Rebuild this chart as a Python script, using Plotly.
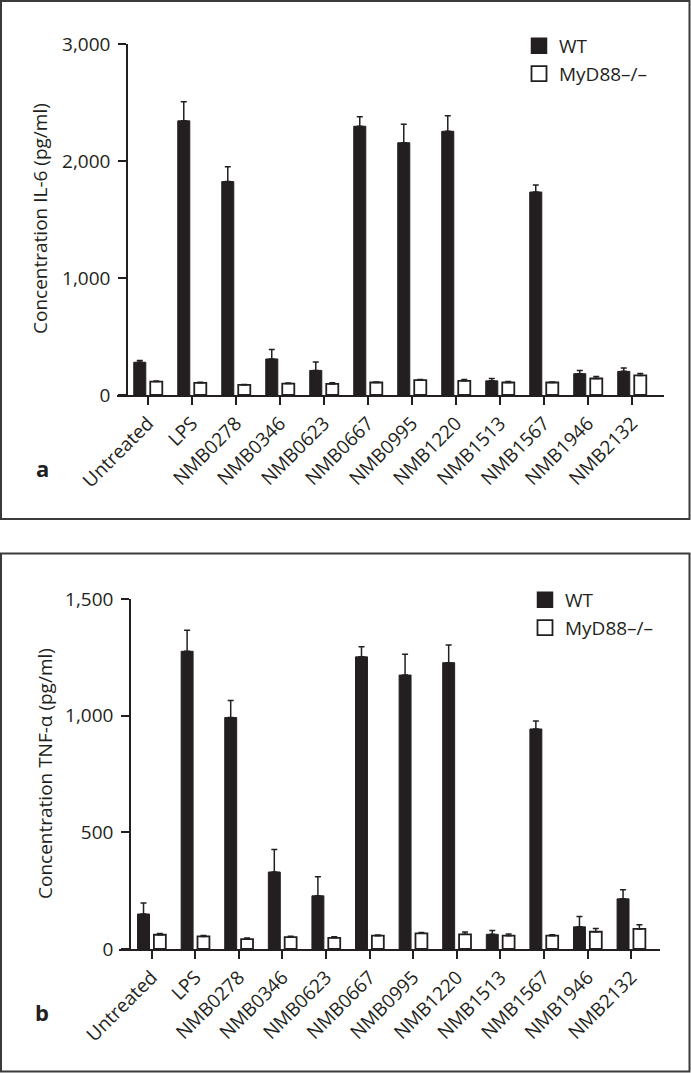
import plotly.graph_objects as go

W, H = 691, 1073

categories = ["Untreated", "LPS", "NMB0278", "NMB0346", "NMB0623", "NMB0667",
              "NMB0995", "NMB1220", "NMB1513", "NMB1567", "NMB1946", "NMB2132"]

# Panel a: IL-6 (pg/ml)
il6_wt = [280, 2343, 1824, 308, 210, 2297, 2156, 2254, 121, 1735, 182, 202]
il6_wt_err = [14, 164, 127, 81, 72, 81, 158, 132, 20, 60, 28, 29]
il6_ko = [115, 104, 86, 98, 95, 107, 127, 121, 107, 107, 141, 167]
il6_ko_err = [5, 6, 4, 5, 9, 5, 5, 12, 8, 5, 18, 17]

# Panel b: TNF-alpha (pg/ml)
tnf_wt = [150, 1276, 992, 330, 228, 1252, 1174, 1227, 63, 943, 95, 215]
tnf_wt_err = [47, 90, 73, 96, 82, 43, 89, 76, 16, 34, 44, 39]
tnf_ko = [61, 54, 42, 51, 48, 57, 67, 63, 57, 57, 74, 86]
tnf_ko_err = [5, 4, 5, 4, 4, 3, 4, 10, 7, 4, 14, 18]

il6_ticks = [0, 1000, 2000, 3000]
tnf_ticks = [0, 500, 1000, 1500]

INK = "#231f20"
FONT = "Open Sans"
FS = 19


def px(v):
    return v / W


def py(v):
    return 1 - v / H


def err(arr):
    return dict(type="data", array=arr, arrayminus=[0] * len(arr), symmetric=False,
                color=INK, thickness=1.5, width=3)


fig = go.Figure()

for xa, ya, wt, wte, ko, koe in [("x", "y", il6_wt, il6_wt_err, il6_ko, il6_ko_err),
                                  ("x2", "y2", tnf_wt, tnf_wt_err, tnf_ko, tnf_ko_err)]:
    fig.add_trace(go.Bar(x=categories, y=wt, xaxis=xa, yaxis=ya, name="WT",
                         marker=dict(color=INK, line=dict(color=INK, width=1)),
                         error_y=err(wte), showlegend=False, offsetgroup="wt"))
    fig.add_trace(go.Bar(x=categories, y=ko, xaxis=xa, yaxis=ya, name="MyD88\u2013/\u2013",
                         marker=dict(color="white", line=dict(color=INK, width=1.8)),
                         error_y=err(koe), showlegend=False, offsetgroup="ko"))

# legend entries
for lg in ["legend", "legend2"]:
    fig.add_trace(go.Scatter(x=[None], y=[None], mode="markers", name="WT", legend=lg,
                             marker=dict(symbol="square", size=15, color=INK,
                                         line=dict(color=INK, width=1.5))))
    fig.add_trace(go.Scatter(x=[None], y=[None], mode="markers", name="MyD88\u2013/\u2013",
                             legend=lg,
                             marker=dict(symbol="square", size=15, color="white",
                                         line=dict(color=INK, width=1.8))))

axis_common = dict(showline=True, linecolor=INK, linewidth=1.5, ticks="outside",
                   tickcolor=INK, tickwidth=1.5, showgrid=False, zeroline=False,
                   automargin=False,
                   tickfont=dict(family=FONT, size=FS, color=INK))

fig.update_layout(
    width=W, height=H, margin=dict(l=0, r=0, t=0, b=0, autoexpand=False),
    paper_bgcolor="white", plot_bgcolor="white",
    barmode="group", bargap=0.25, bargroupgap=0.27,
    font=dict(family=FONT, color=INK),
    xaxis=dict(domain=[px(117), px(664)], anchor="y", range=[-0.705, 11.727],
               ticklen=8, tickangle=-45, **axis_common),
    yaxis=dict(domain=[py(395), py(44)], anchor="free", position=px(127),
               range=[0, 3000], tickvals=il6_ticks, tickformat=",", ticklen=8,
               ticklabelstandoff=4, **axis_common),
    xaxis2=dict(domain=[px(119), px(660)], anchor="y2", range=[-0.75, 11.66],
                ticklen=8, tickangle=-45, **axis_common),
    yaxis2=dict(domain=[py(949), py(599)], anchor="free", position=px(130),
                range=[0, 1500], tickvals=tnf_ticks, tickformat=",", ticklen=8,
                ticklabelstandoff=4, **axis_common),
    legend=dict(x=px(519), y=py(27), xanchor="left", yanchor="top",
                font=dict(family=FONT, size=FS, color=INK), bgcolor="rgba(0,0,0,0)",
                tracegroupgap=0),
    legend2=dict(x=px(525), y=py(581), xanchor="left", yanchor="top",
                 font=dict(family=FONT, size=FS, color=INK), bgcolor="rgba(0,0,0,0)",
                 tracegroupgap=0),
    shapes=[
        dict(type="rect", xref="paper", yref="paper", x0=px(1), x1=px(689.5),
             y0=py(519), y1=py(1), line=dict(color="#3a3a3a", width=2)),
        dict(type="rect", xref="paper", yref="paper", x0=px(1), x1=px(689.5),
             y0=py(1071.5), y1=py(553.5), line=dict(color="#3a3a3a", width=2)),
    ],
    annotations=[
        dict(text="Concentration IL-6 (pg/ml)", textangle=-90, xref="paper", yref="paper",
             x=px(40), y=py(219), xanchor="center", yanchor="middle", showarrow=False,
             font=dict(family=FONT, size=FS, color=INK)),
        dict(text="Concentration TNF-\u03b1 (pg/ml)", textangle=-90, xref="paper",
             yref="paper", x=px(45), y=py(774), xanchor="center", yanchor="middle",
             showarrow=False, font=dict(family=FONT, size=FS, color=INK)),
        dict(text="<b>a</b>", xref="paper", yref="paper", x=px(42), y=py(468),
             xanchor="center", yanchor="middle",
             showarrow=False, font=dict(family=FONT, size=22, color=INK)),
        dict(text="<b>b</b>", xref="paper", yref="paper", x=px(42), y=py(1012),
             xanchor="center", yanchor="middle",
             showarrow=False, font=dict(family=FONT, size=22, color=INK)),
    ],
)

fig.write_html("out.html", config={"displayModeBar": False},
               post_script="document.body.style.margin='0';")
